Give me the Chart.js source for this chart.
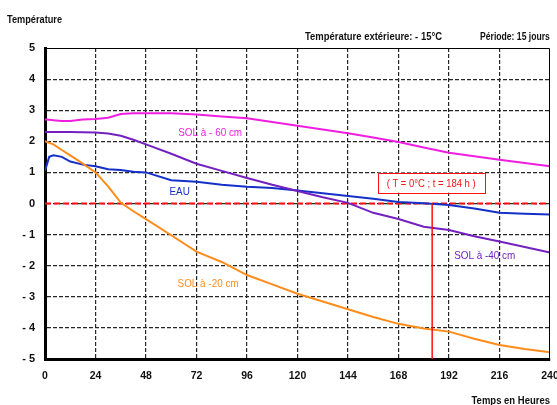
<!DOCTYPE html>
<html>
<head>
<meta charset="utf-8">
<script src="https://cdn.jsdelivr.net/npm/chart.js@4.4.1/dist/chart.umd.min.js"></script>
<style>
  html, body { margin: 0; padding: 0; background: #ffffff; }
  #wrap { width: 557px; height: 405px; position: relative; }
</style>
</head>
<body>
<div id="wrap"><canvas id="c" width="557" height="405"></canvas></div>
<script>
// ---- data ----
const hours = [0, 2, 4, 8, 12, 18, 24, 30, 36, 42, 48, 60, 72, 84, 96, 108, 120, 132, 144, 156, 168, 180, 192, 204, 216, 228, 240];
const sol60 = [2.7, 2.69, 2.68, 2.65, 2.65, 2.7, 2.72, 2.76, 2.88, 2.9, 2.9, 2.9, 2.86, 2.8, 2.74, 2.62, 2.5, 2.38, 2.26, 2.12, 1.98, 1.8, 1.63, 1.52, 1.41, 1.3, 1.2];
const sol40 = [2.3, 2.3, 2.3, 2.3, 2.3, 2.29, 2.28, 2.25, 2.18, 2.05, 1.9, 1.6, 1.28, 1.05, 0.82, 0.6, 0.4, 0.2, 0.02, -0.3, -0.5, -0.75, -0.85, -1.05, -1.22, -1.4, -1.58];
const eau = [1.05, 1.5, 1.55, 1.5, 1.35, 1.25, 1.2, 1.1, 1.08, 1.02, 1.0, 0.75, 0.7, 0.6, 0.54, 0.5, 0.42, 0.33, 0.24, 0.15, 0.05, 0.01, -0.05, -0.16, -0.3, -0.33, -0.35];
const sol20 = [2.0, 1.95, 1.9, 1.72, 1.55, 1.28, 1.0, 0.55, 0.03, -0.25, -0.5, -1.02, -1.55, -1.88, -2.3, -2.6, -2.9, -3.15, -3.4, -3.65, -3.87, -4.02, -4.12, -4.35, -4.55, -4.68, -4.78];
const xTicks = [0, 24, 48, 72, 96, 120, 144, 168, 192, 216, 240];
const yTicks = [-5, -4, -3, -2, -1, 0, 1, 2, 3, 4, 5];
const crossT = 184;      // hour where EAU reaches 0°C
const zeroTemp = 0;
const seriesNames = ['SOL à - 60 cm', 'SOL à -40 cm', 'EAU', 'SOL à -20 cm'];
const annotationText = '( T = 0°C ; t = 184 h )';

// ---- styling ----
const FONT = "'Liberation Sans Narrow', 'Liberation Sans', Arial, sans-serif";
Chart.defaults.font.family = FONT;
const COLORS = { sol60: '#f01ee0', sol40: '#7420c0', eau: '#1430c8', sol20: '#ff8c1a', red: '#ff1010' };

const pts = (vals) => hours.map((h, i) => ({ x: h, y: vals[i] }));

// draws text compressed horizontally (narrow face look-alike)
function narrowText(ctx, txt, x, y, align, font, sx, color) {
  ctx.save();
  ctx.font = font;
  ctx.fillStyle = color;
  ctx.textBaseline = 'middle';
  ctx.textAlign = align;
  ctx.translate(x, y);
  ctx.scale(sx, 1);
  ctx.fillText(txt, 0, 0);
  ctx.restore();
}

const labelPlugin = {
  id: 'labels',
  afterDraw(chart) {
    const { ctx, scales: { x, y }, chartArea: a } = chart;
    ctx.save();
    // solid top / right frame
    ctx.strokeStyle = '#000';
    ctx.lineWidth = 1;
    ctx.beginPath();
    ctx.moveTo(a.left, a.top + 0.5);
    ctx.lineTo(a.right - 0.5, a.top + 0.5);
    ctx.lineTo(a.right - 0.5, a.bottom);
    ctx.stroke();
    ctx.restore();

    // header texts
    narrowText(ctx, 'Température', 7, 20, 'left', 'bold 10px ' + FONT, 0.92, '#111');
    narrowText(ctx, 'Température extérieure: - 15°C', 442, 37, 'right', 'bold 10.5px ' + FONT, 0.9, '#111');
    narrowText(ctx, 'Période: 15 jours', 480, 37, 'left', 'bold 10.5px ' + FONT, 0.82, '#111');
    narrowText(ctx, 'Temps en Heures', 550, 401, 'right', 'bold 10px ' + FONT, 0.95, '#111');

    // series labels placed in data coordinates
    const lab = (txt, h, v, col) => narrowText(ctx, txt, x.getPixelForValue(h), y.getPixelForValue(v), 'center', '11px ' + FONT, 0.9, col);
    lab(seriesNames[0], 78.5, 2.27, COLORS.sol60);
    lab(seriesNames[2], 64, 0.38, COLORS.eau);
    lab(seriesNames[1], 209, -1.69, COLORS.sol40);
    lab(seriesNames[3], 77.5, -2.59, COLORS.sol20);

    // annotation box
    ctx.save();
    const cx = x.getPixelForValue(183.5), cy = y.getPixelForValue(0.67);
    const w = 107, hgt = 20;
    ctx.fillStyle = '#fff';
    ctx.fillRect(cx - w / 2, cy - hgt / 2, w, hgt);
    ctx.strokeStyle = COLORS.red;
    ctx.lineWidth = 1;
    ctx.strokeRect(Math.round(cx - w / 2) + 0.5, Math.round(cy - hgt / 2) + 0.5, w, hgt);
    ctx.restore();
    narrowText(ctx, annotationText, cx, cy + 1, 'center', '10.5px ' + FONT, 0.9, COLORS.red);
  }
};

const lineDs = (data, color, extra) => Object.assign({
  data, borderColor: color, backgroundColor: color, borderWidth: 2,
  pointRadius: 0, tension: 0, fill: false
}, extra || {});

new Chart(document.getElementById('c'), {
  type: 'line',
  data: {
    datasets: [
      lineDs([{ x: crossT, y: zeroTemp }, { x: crossT, y: -5 }], COLORS.red, { borderWidth: 1.5 }),
      lineDs(pts(sol20), COLORS.sol20),
      lineDs(pts(sol40), COLORS.sol40),
      lineDs(pts(sol60), COLORS.sol60),
      lineDs(pts(eau), COLORS.eau),
      lineDs([{ x: 0, y: zeroTemp }, { x: 240, y: zeroTemp }], COLORS.red, { borderDash: [6, 3], borderWidth: 2.2 })
    ]
  },
  options: {
    responsive: false,
    animation: false,
    events: [],
    layout: { padding: { top: 48, right: 7, left: 0, bottom: 0 } },
    plugins: { legend: { display: false }, tooltip: { enabled: false }, title: { display: false } },
    scales: {
      x: {
        type: 'linear', min: 0, max: 240,
        afterBuildTicks: (s) => { s.ticks = xTicks.map(v => ({ value: v })); },
        afterFit: (s) => { s.height = 46; s.paddingLeft = 0; s.paddingRight = 0; },
        ticks: { font: { size: 10.5, weight: 'bold' }, color: '#111', padding: 11, maxRotation: 0, autoSkip: false },
        grid: { drawTicks: false, lineWidth: 1.2, color: (c) => (c.tick && (c.tick.value === 0 || c.tick.value === 240)) ? 'rgba(0,0,0,0)' : '#262626' },
        border: { display: true, color: '#000', width: 3, dash: [4, 2] }
      },
      y: {
        type: 'linear', min: -5, max: 5,
        afterBuildTicks: (s) => { s.ticks = yTicks.map(v => ({ value: v })); },
        afterFit: (s) => { s.width = 45; s.paddingTop = 0; s.paddingBottom = 0; },
        ticks: { font: { size: 11, weight: 'bold' }, color: '#111', padding: 10,
          callback: (v) => v < 0 ? '- ' + Math.abs(v) : String(v) },
        grid: { drawTicks: false, lineWidth: 1.2, color: (c) => (c.tick && (c.tick.value === 5 || c.tick.value === -5)) ? 'rgba(0,0,0,0)' : '#262626' },
        border: { display: true, color: '#000', width: 3, dash: [4, 2] }
      }
    }
  },
  plugins: [labelPlugin]
});
</script>
</body>
</html>
